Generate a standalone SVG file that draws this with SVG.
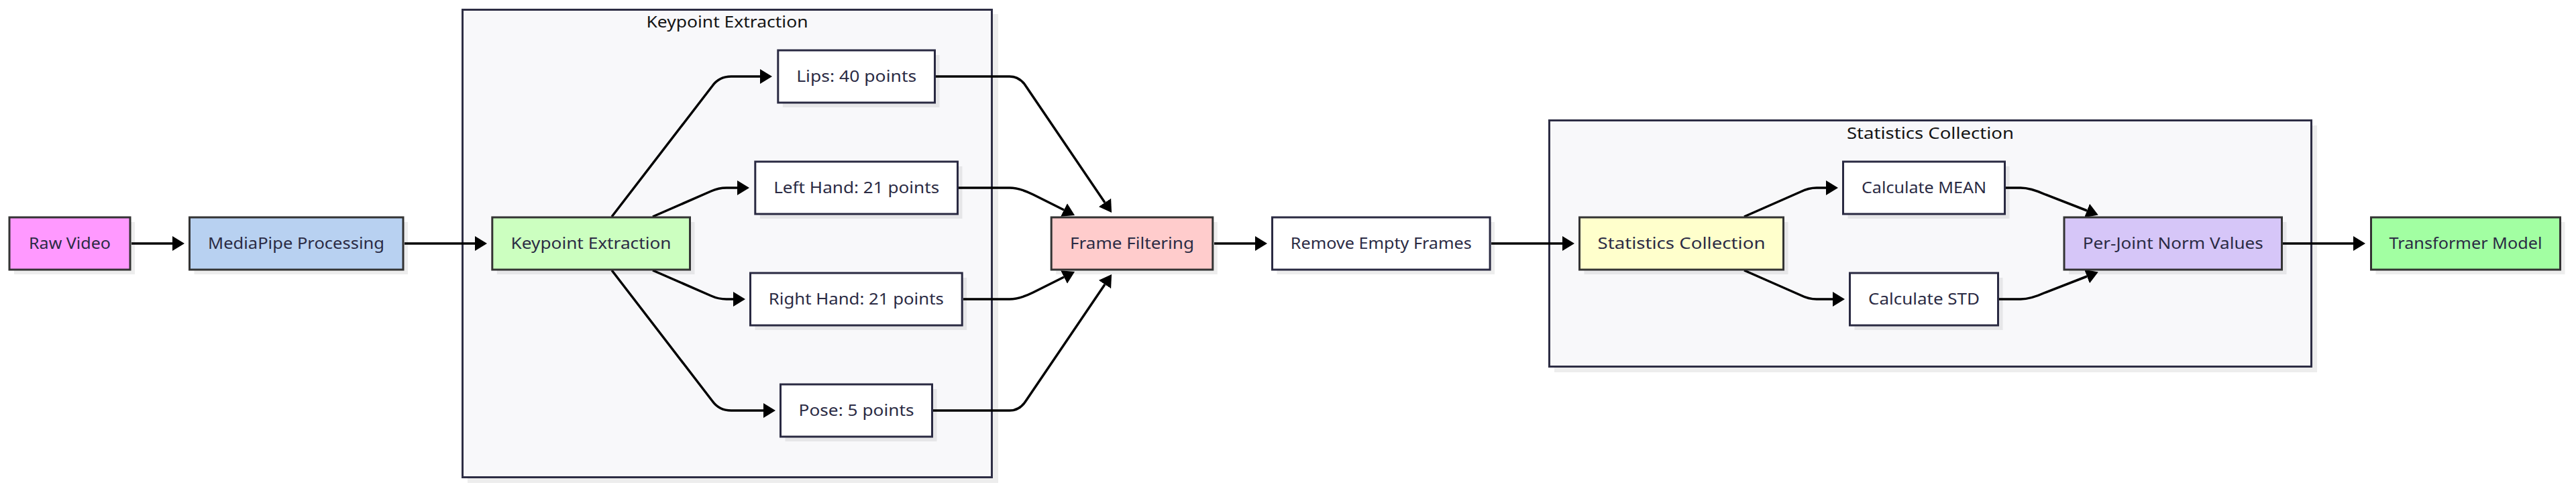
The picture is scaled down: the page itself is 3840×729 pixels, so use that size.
<svg xmlns="http://www.w3.org/2000/svg" width="3840" height="729" viewBox="0 0 3840 729">
<defs>
<marker id="arr" viewBox="0 0 18 22" markerUnits="userSpaceOnUse" markerWidth="18" markerHeight="22" refX="0" refY="11" orient="auto">
<path d="M0,0 L18,11 L0,22 z" fill="#000"/>
</marker>
</defs>
<style>
.cl{fill:#f8f8fa;stroke:#2d2d44;stroke-width:3}
.sh{fill:#000;fill-opacity:0.07}
.n{stroke-width:3}
.c{stroke:#333}
.w{fill:#fff;stroke:#2a2a42}
.t{font-family:"Noto Sans","Open Sans","DejaVu Sans",sans-serif;font-size:24px;fill:#2b2b44;text-anchor:middle}
.tt{font-family:"Noto Sans","Open Sans","DejaVu Sans",sans-serif;font-size:24px;fill:#141414;text-anchor:middle}
.e{fill:none;stroke:#000;stroke-width:3.5;marker-end:url(#arr)}
</style>
<rect width="3840" height="729" fill="#fff"/>

<g id="cluster-keypoint">
<rect class="sh" x="697" y="21" width="791" height="699"/>
<rect class="cl" x="689.5" y="14.5" width="789" height="697"/>
<text class="tt" x="1084" y="41" textLength="241" lengthAdjust="spacingAndGlyphs">Keypoint Extraction</text>
</g>
<g id="cluster-stats">
<rect class="sh" x="2317" y="187" width="1137" height="368"/>
<rect class="cl" x="2309.5" y="179.5" width="1136" height="367"/>
<text class="tt" x="2877.5" y="207" textLength="249" lengthAdjust="spacingAndGlyphs">Statistics Collection</text>
</g>

<g id="edges">
<path class="e" d="M196,363 L257,363"/>
<path class="e" d="M603,363 L708,363"/>
<path class="e" d="M912,323 L1062,128 Q1072,114 1090,114 L1133,114"/>
<path class="e" d="M973,323 L1060,285 Q1071,280 1083,280 L1099,280"/>
<path class="e" d="M973,403 L1060,441 Q1071,446 1083,446 L1093,446"/>
<path class="e" d="M912,403 L1062,598 Q1072,612 1090,612 L1138,612"/>
<path class="e" d="M1395,114 L1505,114 Q1520,114 1529,128 L1647,302"/>
<path class="e" d="M1429,280 L1505,280 Q1520,280 1540,290 L1586,313"/>
<path class="e" d="M1436,446 L1505,446 Q1520,446 1540,436 L1586,413"/>
<path class="e" d="M1391,612 L1505,612 Q1520,612 1529,598 L1647,424"/>
<path class="e" d="M1810,363 L1871,363"/>
<path class="e" d="M2223,363 L2329,363"/>
<path class="e" d="M2600,323 L2684,286 Q2696,280 2708,280 L2722,280"/>
<path class="e" d="M2600,403 L2684,440 Q2696,446 2708,446 L2732,446"/>
<path class="e" d="M2990,280 L3012,280 Q3027,280 3049,290 L3111,314"/>
<path class="e" d="M2980,446 L3012,446 Q3027,446 3049,436 L3111,412"/>
<path class="e" d="M3403,363 L3508,363"/>
</g>

<g id="raw-video">
<rect class="sh" x="21" y="331" width="180" height="78"/>
<rect class="n c" x="14" y="324" width="180" height="78" fill="#ff99ff"/>
<text class="t" x="104" y="371" textLength="122" lengthAdjust="spacingAndGlyphs">Raw Video</text>
</g>
<g id="mediapipe">
<rect class="sh" x="289.5" y="331" width="318.5" height="78"/>
<rect class="n c" x="282.5" y="324" width="318.5" height="78" fill="#b8d1f1"/>
<text class="t" x="441.5" y="371" textLength="263" lengthAdjust="spacingAndGlyphs">MediaPipe Processing</text>
</g>
<g id="keypoint-extraction">
<rect class="sh" x="740.8" y="331" width="294.7" height="78"/>
<rect class="n c" x="733.8" y="324" width="294.7" height="78" fill="#ccffc0"/>
<text class="t" x="881" y="371" textLength="239" lengthAdjust="spacingAndGlyphs">Keypoint Extraction</text>
</g>
<g id="lips">
<rect class="sh" x="1166.8" y="82" width="233.7" height="78"/>
<rect class="n w" x="1159.8" y="75" width="233.7" height="78"/>
<text class="t" x="1276.7" y="122" textLength="179" lengthAdjust="spacingAndGlyphs">Lips: 40 points</text>
</g>
<g id="left-hand">
<rect class="sh" x="1132.8" y="248" width="301.7" height="78"/>
<rect class="n w" x="1125.8" y="241" width="301.7" height="78"/>
<text class="t" x="1276.7" y="288" textLength="247" lengthAdjust="spacingAndGlyphs">Left Hand: 21 points</text>
</g>
<g id="right-hand">
<rect class="sh" x="1125.5" y="414" width="315.7" height="78"/>
<rect class="n w" x="1118.5" y="407" width="315.7" height="78"/>
<text class="t" x="1276.3" y="454" textLength="261" lengthAdjust="spacingAndGlyphs">Right Hand: 21 points</text>
</g>
<g id="pose">
<rect class="sh" x="1170.5" y="580" width="226" height="78"/>
<rect class="n w" x="1163.5" y="573" width="226" height="78"/>
<text class="t" x="1276.5" y="620" textLength="172" lengthAdjust="spacingAndGlyphs">Pose: 5 points</text>
</g>
<g id="frame-filtering">
<rect class="sh" x="1574.2" y="331" width="240.6" height="78"/>
<rect class="n c" x="1567.2" y="324" width="240.6" height="78" fill="#ffcccc"/>
<text class="t" x="1687.5" y="371" textLength="185" lengthAdjust="spacingAndGlyphs">Frame Filtering</text>
</g>
<g id="remove-empty">
<rect class="sh" x="1903.5" y="331" width="324.6" height="78"/>
<rect class="n w" x="1896.5" y="324" width="324.6" height="78"/>
<text class="t" x="2058.8" y="371" textLength="270" lengthAdjust="spacingAndGlyphs">Remove Empty Frames</text>
</g>
<g id="statistics-collection">
<rect class="sh" x="2361.5" y="331" width="304" height="78"/>
<rect class="n c" x="2354.5" y="324" width="304" height="78" fill="#ffffcc"/>
<text class="t" x="2506.5" y="371" textLength="250" lengthAdjust="spacingAndGlyphs">Statistics Collection</text>
</g>
<g id="calc-mean">
<rect class="sh" x="2754.5" y="248" width="241" height="78"/>
<rect class="n w" x="2747.5" y="241" width="241" height="78"/>
<text class="t" x="2868" y="288" textLength="186" lengthAdjust="spacingAndGlyphs">Calculate MEAN</text>
</g>
<g id="calc-std">
<rect class="sh" x="2764.5" y="414" width="221" height="78"/>
<rect class="n w" x="2757.5" y="407" width="221" height="78"/>
<text class="t" x="2868" y="454" textLength="166" lengthAdjust="spacingAndGlyphs">Calculate STD</text>
</g>
<g id="per-joint">
<rect class="sh" x="3084" y="331" width="324.5" height="78"/>
<rect class="n c" x="3077" y="324" width="324.5" height="78" fill="#d6c6f8"/>
<text class="t" x="3239.3" y="371" textLength="269" lengthAdjust="spacingAndGlyphs">Per-Joint Norm Values</text>
</g>
<g id="transformer">
<rect class="sh" x="3541.5" y="331" width="282" height="78"/>
<rect class="n c" x="3534.5" y="324" width="282" height="78" fill="#a2ffa2"/>
<text class="t" x="3675.5" y="371" textLength="228" lengthAdjust="spacingAndGlyphs">Transformer Model</text>
</g>
</svg>
